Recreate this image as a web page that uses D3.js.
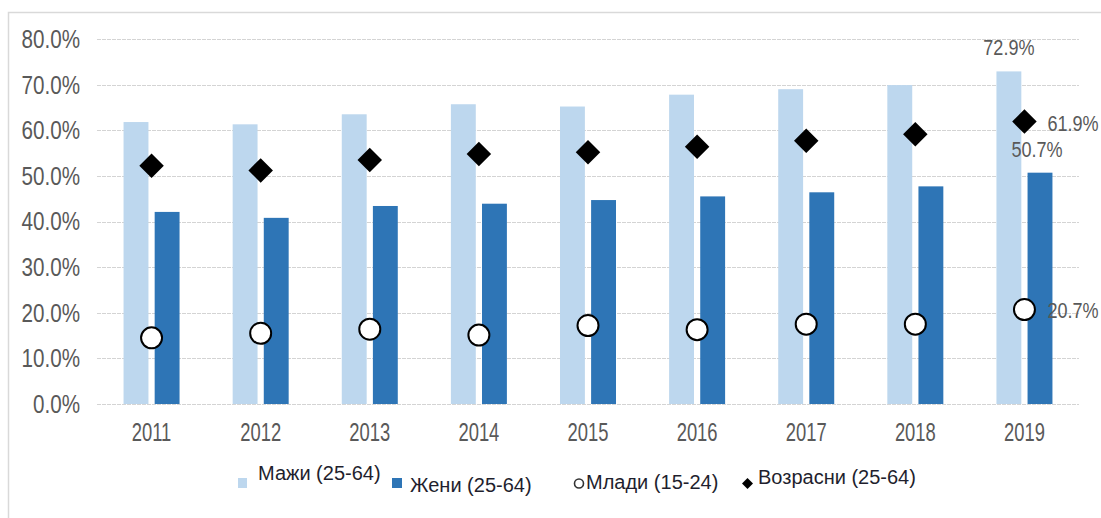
<!DOCTYPE html>
<html>
<head>
<meta charset="utf-8">
<script src="https://cdn.jsdelivr.net/npm/d3@7"></script>
<style>
  html, body { margin: 0; padding: 0; background: #fff; }
  svg { display: block; }
</style>
</head>
<body>
<div id="chart"></div>
<script>
// values (share of population, %)
const years = ["2011", "2012", "2013", "2014", "2015", "2016", "2017", "2018", "2019"];
const men = [61.8, 61.3, 63.5, 65.7, 65.2, 67.8, 69.0, 69.9, 72.9];
const women = [42.1, 40.8, 43.4, 43.9, 44.7, 45.5, 46.4, 47.7, 50.7];
const youth = [14.5, 15.5, 16.4, 15.1, 17.2, 16.3, 17.5, 17.5, 20.7];
const adults = [52.2, 51.2, 53.5, 54.8, 55.2, 56.4, 57.7, 59.1, 61.9];
const yTicks = [0, 10, 20, 30, 40, 50, 60, 70, 80];
const legendNames = ["Мажи (25-64)", "Жени (25-64)", "Млади (15-24)", "Возрасни (25-64)"];

const width = 1101, height = 518;
const lightBlue = "#bdd7ee", darkBlue = "#2e75b6";
const tickFont = "'Liberation Sans', Arial, sans-serif";

const svg = d3.select("#chart").append("svg")
  .attr("width", width)
  .attr("height", height);

// outer frame (only top and left edges show)
svg.append("path")
  .attr("d", `M8.5,${height} V12.5 H${width}`)
  .attr("fill", "none")
  .attr("stroke", "#d9d9d9")
  .attr("stroke-width", 1.5);

const x = d3.scaleBand().domain(years).range([97, 1079]);
const sub = d3.scaleBand().domain(["m", "w"])
  .range([x.bandwidth() / 2 - 28, x.bandwidth() / 2 + 28])
  .paddingInner(0.2);
const y = d3.scaleLinear().domain([0, 80]).range([404, 39]);

// the original axis text is condensed and a bit tall
const place = (px, py, sx = 0.86, sy = 1) => `translate(${px},${py}) scale(${sx},${sy})`;

// gridlines + y labels
const yAxis = svg.append("g");
yAxis.selectAll("line")
  .data(yTicks)
  .join("line")
  .attr("x1", 97).attr("x2", 1079)
  .attr("y1", d => Math.round(y(d)) + 0.5)
  .attr("y2", d => Math.round(y(d)) + 0.5)
  .attr("stroke", "#d4d4d4")
  .attr("stroke-width", 1.2)
  .attr("stroke-dasharray", "4,1");

yAxis.selectAll("text")
  .data(yTicks)
  .join("text")
  .attr("transform", d => place(80, y(d), 0.86, 1.04))
  .attr("dy", "0.36em")
  .attr("text-anchor", "end")
  .attr("font-family", tickFont)
  .attr("font-size", 24)
  .attr("fill", "#595959")
  .text(d => d3.format(".1f")(d) + "%");

// x labels
svg.append("g").selectAll("text")
  .data(years)
  .join("text")
  .attr("transform", d => place(x(d) + x.bandwidth() / 2, 441, 0.8, 1.1))
  .attr("text-anchor", "middle")
  .attr("font-family", tickFont)
  .attr("font-size", 23)
  .attr("fill", "#595959")
  .text(d => d);

// bars
const bars = svg.append("g");
bars.selectAll("rect.men")
  .data(years)
  .join("rect")
  .attr("class", "men")
  .attr("x", d => x(d) + sub("m"))
  .attr("width", sub.bandwidth())
  .attr("y", (d, i) => y(men[i]))
  .attr("height", (d, i) => y(0) - y(men[i]))
  .attr("fill", lightBlue);

bars.selectAll("rect.women")
  .data(years)
  .join("rect")
  .attr("class", "women")
  .attr("x", d => x(d) + sub("w"))
  .attr("width", sub.bandwidth())
  .attr("y", (d, i) => y(women[i]))
  .attr("height", (d, i) => y(0) - y(women[i]))
  .attr("fill", darkBlue);

// markers
const cx = d => x(d) + x.bandwidth() / 2;
const diamond = d3.symbol().type(d3.symbolSquare).size(300);

svg.append("g").selectAll("path")
  .data(years)
  .join("path")
  .attr("d", diamond)
  .attr("transform", (d, i) => `translate(${cx(d)},${y(adults[i])}) rotate(45)`)
  .attr("fill", "#000");

svg.append("g").selectAll("circle")
  .data(years)
  .join("circle")
  .attr("cx", cx)
  .attr("cy", (d, i) => y(youth[i]))
  .attr("r", 10.5)
  .attr("fill", "#fff")
  .attr("stroke", "#000")
  .attr("stroke-width", 2);

// data labels for the last year
const last = years.length - 1;
const lx = x(years[last]);
const labels = svg.append("g")
  .attr("font-family", tickFont)
  .attr("font-size", 21)
  .attr("fill", "#595959");
const pct = v => d3.format(".1f")(v) + "%";

labels.append("text")
  .attr("transform", place(lx + sub("m") + sub.bandwidth() / 2, y(men[last]) - 16, 0.86, 1.05))
  .attr("text-anchor", "middle")
  .text(pct(men[last]));

labels.append("text")
  .attr("transform", place(lx + sub("w") + sub.bandwidth() / 2 - 3, y(women[last]) - 16, 0.86, 1.05))
  .attr("text-anchor", "middle")
  .text(pct(women[last]));

labels.append("text")
  .attr("transform", place(cx(years[last]) + 23, y(adults[last]) + 1, 0.86, 1.05))
  .attr("dy", "0.36em")
  .text(pct(adults[last]));

labels.append("text")
  .attr("transform", place(cx(years[last]) + 23, y(youth[last]), 0.86, 1.05))
  .attr("dy", "0.36em")
  .text(pct(youth[last]));

// legend
const legendFont = "'Liberation Sans', Arial, sans-serif";
const legend = svg.append("g")
  .attr("font-family", legendFont)
  .attr("font-size", 20)
  .attr("fill", "#1f1f2e");

legend.append("rect").attr("x", 238).attr("y", 478).attr("width", 9).attr("height", 10).attr("fill", lightBlue);
legend.append("text").attr("x", 258).attr("y", 480).text(legendNames[0]);

legend.append("rect").attr("x", 392).attr("y", 478).attr("width", 10).attr("height", 10).attr("fill", darkBlue);
legend.append("text").attr("x", 410).attr("y", 492).text(legendNames[1]);

legend.append("circle").attr("cx", 579).attr("cy", 483.5).attr("r", 4.5)
  .attr("fill", "#fff").attr("stroke", "#333").attr("stroke-width", 1.6);
legend.append("text").attr("x", 586).attr("y", 489).text(legendNames[2]);

legend.append("path")
  .attr("d", d3.symbol().type(d3.symbolSquare).size(60))
  .attr("transform", "translate(747.5,483.5) rotate(45)")
  .attr("fill", "#000");
legend.append("text").attr("x", 758).attr("y", 484).text(legendNames[3]);
</script>
</body>
</html>
